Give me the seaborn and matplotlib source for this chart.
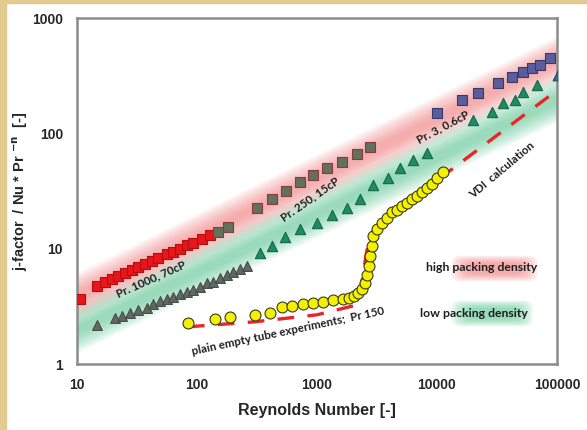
import numpy as np
import pandas as pd
import matplotlib
matplotlib.use("Agg")
import matplotlib.pyplot as plt
import seaborn as sns
from matplotlib.patches import Rectangle, FancyBboxPatch

# ---------------- data ----------------
re_pr1000_sq = [10.6, 14.7, 17.1, 19.6, 22.0, 25.1, 28.7, 32.2, 36.9, 42.2, 47.3, 56.2, 63.1, 72.1, 82.5, 92.6, 110, 128]
j_pr1000_sq = [3.67, 4.77, 5.13, 5.45, 5.75, 6.13, 6.53, 6.89, 7.33, 7.80, 8.24, 8.94, 9.42, 10.0, 10.7, 11.3, 12.2, 13.1]

re_pr250_sq = [150, 181, 316, 422, 552, 722, 926, 1212, 1616, 2154, 2760]
j_pr250_sq = [14.0, 15.5, 22.7, 27.2, 31.9, 37.5, 43.1, 49.6, 56.0, 65.7, 75.5]

re_pr3_sq = [10000, 16150, 21970, 32230, 42170, 52100, 61900, 72150, 87460]
j_pr3_sq = [149, 194, 223, 272, 307, 339, 367, 390, 449]

re_low_gray = [14.7, 20.7, 23.7, 27.7, 32.2, 38.3, 43.0, 49.2, 56.2, 63.1, 72.1, 82.5, 92.6, 106, 121, 136, 155, 178, 200, 228, 261]
j_low_gray = [2.18, 2.51, 2.61, 2.77, 2.95, 3.07, 3.33, 3.49, 3.67, 3.83, 4.07, 4.25, 4.40, 4.67, 4.99, 5.16, 5.52, 5.88, 6.30, 6.70, 7.10]

re_low_green = [335, 422, 541, 722, 1000, 1334, 1778, 2282, 2929, 3905, 4917, 6310, 8250, 19950, 28700, 35480, 44670, 52100, 68100]
j_low_green = [9.23, 10.6, 12.5, 14.9, 16.8, 19.4, 22.7, 27.2, 35.3, 41.4, 49.6, 58.2, 67.0, 130, 152, 182, 194, 227, 261]

re_low_blue = [101900]
j_low_blue = [319]

re_tube = [84.1, 141, 188, 304, 406, 511, 619, 764, 926, 1122, 1359, 1647, 1848, 2033, 2197, 2371, 2512, 2610,
           2712, 2766, 2873, 2929, 3162, 3483, 3831, 4217, 4642, 5109, 5623, 6190, 6813, 7499, 8254, 9085, 10000, 11220]
j_tube = [2.28, 2.46, 2.56, 2.67, 2.78, 3.13, 3.19, 3.32, 3.39, 3.46, 3.60, 3.67, 3.75, 3.90, 4.14, 4.49, 5.06, 5.94,
          7.12, 8.69, 10.6, 13.0, 14.9, 16.8, 18.6, 20.6, 21.8, 23.6, 25.1, 27.2, 28.9, 31.3, 33.9, 36.7, 40.6, 45.8]

re_vdi = [84, 300, 1000, 2000, 2300, 2600, 3000, 13600, 93000]
j_vdi = [2.10, 2.32, 2.67, 3.19, 4.3, 9.6, 15.2, 49.7, 223]

band_re = [10, 100000]
band_high = [3.9, 440]
band_low = [2.0, 200]

annotations = [
    ("Pr. 1000, 70cP", 41.4, 5.48, 24),
    ("Pr. 250, 15cP", 875, 26.7, 35),
    ("Pr. 3, 0.6cP", 11220, 113, 28),
    ("VDI  calculation", 34800, 47.6, 40),
    ("plain empty tube experiments;  Pr 150", 573, 1.94, 12),
]

# ---------------- style ----------------
sns.set_style("white")
plt.rcParams['font.family'] = ['Liberation Sans', 'DejaVu Sans']

fig = plt.figure(figsize=(5.87, 4.30), dpi=100)
fig.patch.set_facecolor("white")
# tan frame on left / top
fig.add_artist(Rectangle((0, 0), 6 / 587, 1, transform=fig.transFigure, color="#e3cb8f", zorder=0))
fig.add_artist(Rectangle((0, 1 - 3 / 430), 1, 3 / 430, transform=fig.transFigure, color="#e3cb8f", zorder=0))

ax = fig.add_axes([77 / 587, 1 - 364 / 430, 480 / 587, 346 / 430])
ax.set_xscale("log")
ax.set_yscale("log")

# fuzzy bands
bx = np.array(band_re, dtype=float)
for centre, col in ((np.array(band_high, float), "#f07070"), (np.array(band_low, float), "#4cc38a")):
    n = 10
    for k in range(n):
        w = 0.18 * (1 - k / n) + 0.02
        ax.fill_between(bx, centre * 10 ** (-w), centre * 10 ** w, color=col, alpha=0.075, lw=0, zorder=1)

# VDI dashed line
df_vdi = pd.DataFrame({"Re": re_vdi, "j": j_vdi})
sns.lineplot(data=df_vdi, x="Re", y="j", ax=ax, color="#e8262a", lw=2.4, zorder=2)
ax.lines[-1].set_dashes([5, 4])

def scat(xs, ys, marker, fc, ec, s, z=3):
    d = pd.DataFrame({"Re": xs, "j": ys})
    sns.scatterplot(data=d, x="Re", y="j", ax=ax, marker=marker, color=fc, edgecolor=ec,
                    linewidth=0.8, s=s, zorder=z)

scat(re_pr1000_sq, j_pr1000_sq, "s", "#e8161b", "#b01010", 55)
scat(re_pr250_sq, j_pr250_sq, "s", "#62705e", "#8a3a3a", 45)
scat(re_pr3_sq, j_pr3_sq, "s", "#5a5c9c", "#3a3a6a", 50)
scat(re_low_gray, j_low_gray, "^", "#5d6a62", "#4a4a4a", 50)
scat(re_low_green, j_low_green, "^", "#1d8c62", "#17664a", 55)
scat(re_low_blue, j_low_blue, "^", "#2a6e8e", "#1f4e6e", 60)
scat(re_tube, j_tube, "o", "#f3f000", "#3a3a1a", 62, z=4)

ax.set_xlim(10, 100000)
ax.set_ylim(1, 1000)

for sp in ax.spines.values():
    sp.set_color("#8c8c8c")
    sp.set_linewidth(1.8)
ax.tick_params(which="major", direction="out", length=4, width=1.2, color="#8c8c8c",
               labelsize=10, pad=6)
ax.tick_params(which="minor", length=0)
ax.set_xticks([10, 100, 1000, 10000, 100000])
ax.set_xticklabels(["10", "100", "1000", "10000", "100000"], fontweight="bold")
ax.set_yticks([1, 10, 100, 1000])
ax.set_yticklabels(["1", "10", "100", "1000"], fontweight="bold")

ax.set_xlabel("Reynolds Number [-]", fontsize=11.5, fontweight="bold", labelpad=8)
ax.set_ylabel(r"j-factor  / Nu * Pr $^{\mathbf{-n}}$  [-]", fontsize=10.5, fontweight="bold")
ax.yaxis.set_label_coords(-0.098, 0.5)

afont = ['Lato', 'DejaVu Sans']
for txt, x, y, rot in annotations:
    ax.text(x, y, txt, rotation=rot, ha="center", va="center", fontsize=8.3,
            family=afont, color="#1e1e1e", fontweight="bold", zorder=6, rotation_mode="anchor")

# legend-like labels with fuzzy colour patches
for (x0, y0, w, h, col) in ((0.785, 0.243, 0.17, 0.066, "#f07070"), (0.785, 0.113, 0.16, 0.066, "#4cc38a")):
    for k in range(6):
        sh = 0.006 * k
        ax.add_patch(FancyBboxPatch((x0 + sh, y0 + sh * 0.7), w - 2 * sh, h - 1.4 * sh,
                                    boxstyle="round,pad=0.004,rounding_size=0.02",
                                    transform=ax.transAxes, color=col, alpha=0.13, lw=0, zorder=2))
ax.text(0.842, 0.278, "high packing density", transform=ax.transAxes, ha="center", va="center",
        fontsize=8.8, family=afont, color="#1e1e1e", fontweight="bold", zorder=6)
ax.text(0.827, 0.147, "low packing density", transform=ax.transAxes, ha="center", va="center",
        fontsize=8.8, family=afont, color="#1e1e1e", fontweight="bold", zorder=6)

fig.savefig("out.png", dpi=100)
